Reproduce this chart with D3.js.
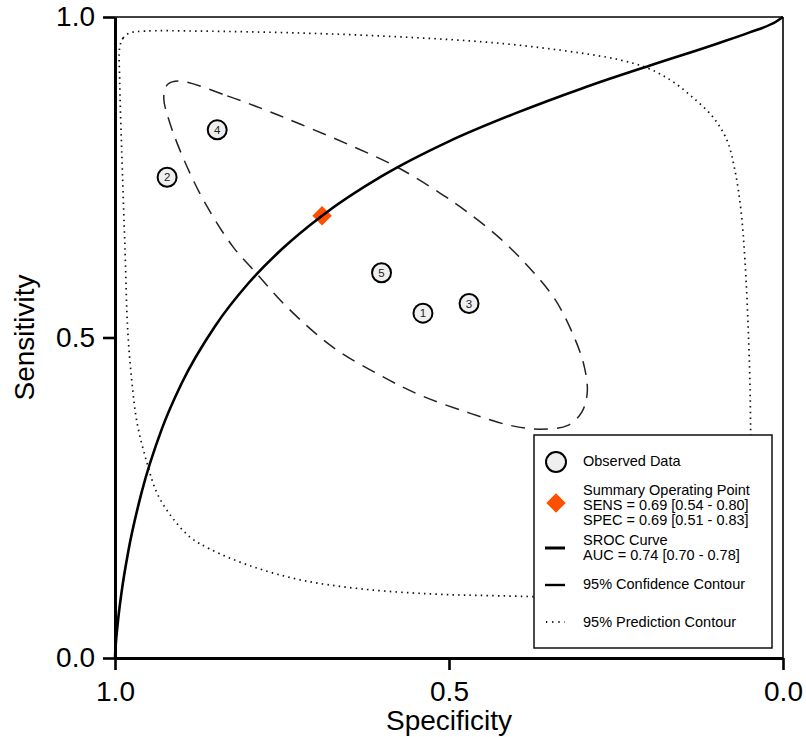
<!DOCTYPE html>
<html>
<head>
<meta charset="utf-8">
<script src="https://cdn.jsdelivr.net/npm/d3@7"></script>
<style>
  html, body { margin: 0; padding: 0; background: #fff; }
  svg { display: block; font-family: "Liberation Sans", Arial, Helvetica, sans-serif; }
</style>
</head>
<body>
<svg id="chart" width="806" height="737"></svg>
<script>
// ---- Observed studies ----
const studyIds   = [1, 2, 3, 4, 5];
const studySpec  = [0.539, 0.922, 0.470, 0.847, 0.601];
const studySens  = [0.538, 0.750, 0.553, 0.824, 0.601];

// ---- Summary operating point ----
const summarySpec = 0.69;
const summarySens = 0.69;

// ---- SROC curve (specificity, sensitivity) ----
const srocSpec = [1, 0.9999, 0.9995, 0.999, 0.998, 0.997, 0.995, 0.99, 0.98, 0.96, 0.93, 0.90, 0.85, 0.80, 0.75, 0.69, 0.60, 0.50, 0.40, 0.30, 0.20, 0.10, 0.05, 0.01, 0];
const srocSens = [0, 0.003, 0.011, 0.019, 0.032, 0.043, 0.063, 0.104, 0.167, 0.259, 0.357, 0.429, 0.518, 0.585, 0.638, 0.690, 0.752, 0.806, 0.850, 0.889, 0.924, 0.958, 0.976, 0.993, 1];

// ---- 95% confidence contour ----
const confSpec = [0.903, 0.832, 0.775, 0.723, 0.648, 0.578, 0.513, 0.473, 0.424, 0.379, 0.341, 0.314, 0.298, 0.293, 0.301, 0.322, 0.364, 0.409, 0.469, 0.543, 0.603, 0.674, 0.743, 0.789, 0.823, 0.862, 0.892, 0.918, 0.927, 0.921];
const confSens = [0.900, 0.877, 0.855, 0.833, 0.800, 0.766, 0.725, 0.696, 0.655, 0.608, 0.559, 0.504, 0.457, 0.415, 0.384, 0.363, 0.357, 0.363, 0.382, 0.410, 0.441, 0.485, 0.548, 0.601, 0.641, 0.704, 0.766, 0.835, 0.875, 0.895];

// ---- 95% prediction contour ----
const predSpec = [0.993, 0.988, 0.978, 0.955, 0.873, 0.723, 0.573, 0.424, 0.304, 0.244, 0.202, 0.169, 0.139, 0.105, 0.084, 0.072, 0.063, 0.057, 0.052, 0.049, 0.049, 0.054, 0.067, 0.094, 0.139, 0.214, 0.304, 0.424, 0.528, 0.633, 0.723, 0.798, 0.858, 0.888, 0.915, 0.937, 0.952, 0.967, 0.975, 0.981, 0.985, 0.990, 0.993];
const predSens = [0.952, 0.967, 0.975, 0.978, 0.978, 0.975, 0.969, 0.959, 0.944, 0.933, 0.920, 0.902, 0.878, 0.844, 0.808, 0.761, 0.699, 0.621, 0.512, 0.402, 0.309, 0.231, 0.172, 0.134, 0.109, 0.098, 0.095, 0.097, 0.100, 0.108, 0.122, 0.144, 0.170, 0.189, 0.220, 0.257, 0.304, 0.367, 0.434, 0.512, 0.637, 0.793, 0.902];

// ---- Axes ----
const tickValues = [0, 0.5, 1];
const tickLabels = ["0.0", "0.5", "1.0"];
const xTitle = "Specificity";
const yTitle = "Sensitivity";

// ---- Legend ----
const legendEntries = [
  { kind: "circle",  lines: ["Observed Data"] },
  { kind: "diamond", lines: ["Summary Operating Point", "SENS = 0.69 [0.54 - 0.80]", "SPEC = 0.69 [0.51 - 0.83]"] },
  { kind: "solid",   lines: ["SROC Curve", "AUC = 0.74 [0.70 - 0.78]"] },
  { kind: "dashed",  lines: ["95% Confidence Contour"] },
  { kind: "dotted",  lines: ["95% Prediction Contour"] }
];

const svg = d3.select("#chart");
const plotL = 115, plotR = 783, plotT = 17, plotB = 658;

const x = d3.scaleLinear().domain([1, 0]).range([plotL, plotR]);
const y = d3.scaleLinear().domain([0, 1]).range([plotB, plotT]);

const orange = "#ff4f00";

// frame: thin top and right edges
svg.append("line").attr("x1", plotL).attr("x2", plotR).attr("y1", plotT).attr("y2", plotT)
  .attr("stroke", "#000").attr("stroke-width", 1.6);
svg.append("line").attr("x1", plotR).attr("x2", plotR).attr("y1", plotT).attr("y2", plotB)
  .attr("stroke", "#000").attr("stroke-width", 1.6);

const fmt = d => tickLabels[tickValues.indexOf(d)];

const yAxis = svg.append("g").attr("transform", `translate(${plotL},0)`)
  .call(d3.axisLeft(y).tickValues(tickValues).tickFormat(fmt).tickSize(12).tickSizeOuter(0).tickPadding(8));
const xAxis = svg.append("g").attr("transform", `translate(0,${plotB})`)
  .call(d3.axisBottom(x).tickValues(tickValues).tickFormat(fmt).tickSize(12).tickSizeOuter(0).tickPadding(11));

[yAxis, xAxis].forEach(g => {
  g.select(".domain").attr("stroke", "#000").attr("stroke-width", 3);
  g.selectAll(".tick line").attr("stroke", "#000").attr("stroke-width", 2.6);
  g.selectAll(".tick text").attr("fill", "#000").style("font-size", "28px")
    .style("font-family", "'Liberation Sans', Arial, sans-serif");
});

svg.append("text").attr("x", (plotL + plotR) / 2).attr("y", 730)
  .attr("text-anchor", "middle").style("font-size", "28px").text(xTitle);
svg.append("text").attr("transform", `translate(34,${(plotT + plotB) / 2}) rotate(-90)`)
  .attr("text-anchor", "middle").style("font-size", "28px").text(yTitle);

// contours
const closed = d3.line().x(d => x(d[0])).y(d => y(d[1])).curve(d3.curveCatmullRomClosed.alpha(0.5));

svg.append("path").datum(d3.zip(predSpec, predSens)).attr("d", closed)
  .attr("fill", "none").attr("stroke", "#111").attr("stroke-width", 1.7)
  .attr("stroke-dasharray", "1.5 4.2");

svg.append("path").datum(d3.zip(confSpec, confSens)).attr("d", closed)
  .attr("fill", "none").attr("stroke", "#222").attr("stroke-width", 1.5)
  .attr("stroke-dasharray", "14 9");

// summary operating point
const diamond = d3.symbol().type(d3.symbolDiamond2).size(240);
svg.append("path").attr("d", diamond)
  .attr("transform", `translate(${x(summarySpec)},${y(summarySens)})`)
  .attr("fill", orange);

// SROC curve
const srocLine = d3.line().x(d => x(d[0])).y(d => y(d[1])).curve(d3.curveMonotoneX);
svg.append("path").datum(d3.zip(srocSpec, srocSens)).attr("d", srocLine)
  .attr("fill", "none").attr("stroke", "#000").attr("stroke-width", 2.6);

// observed studies
const pts = svg.append("g").selectAll("g").data(studyIds.map((id, i) => ({ id, s: studySpec[i], e: studySens[i] })))
  .join("g").attr("transform", d => `translate(${x(d.s)},${y(d.e)})`);
pts.append("circle").attr("r", 9.5).attr("fill", "#efefef").attr("stroke", "#000").attr("stroke-width", 2);
pts.append("text").attr("text-anchor", "middle").attr("dy", "0.36em")
  .style("font-size", "11.5px").attr("fill", "#222").text(d => d.id);

// legend
const lg = svg.append("g");
lg.append("rect").attr("x", 534).attr("y", 435).attr("width", 238).attr("height", 213)
  .attr("fill", "#fff").attr("stroke", "#111").attr("stroke-width", 1.5);

const firstBaselines = [466, 494.5, 545, 589, 627];
const symbolY = [462, 503, 548, 585, 622];
const lineH = 15;
legendEntries.forEach((e, i) => {
  const sx = 556, sy = symbolY[i];
  if (e.kind === "circle") {
    lg.append("circle").attr("cx", sx).attr("cy", sy).attr("r", 10)
      .attr("fill", "#efefef").attr("stroke", "#000").attr("stroke-width", 2);
  } else if (e.kind === "diamond") {
    lg.append("path").attr("d", diamond).attr("transform", `translate(${sx},${sy})`).attr("fill", orange);
  } else if (e.kind === "solid") {
    lg.append("line").attr("x1", 545).attr("x2", 565).attr("y1", sy).attr("y2", sy)
      .attr("stroke", "#000").attr("stroke-width", 3);
  } else if (e.kind === "dashed") {
    lg.append("line").attr("x1", 545).attr("x2", 565).attr("y1", sy).attr("y2", sy)
      .attr("stroke", "#000").attr("stroke-width", 2.4);
  } else {
    lg.append("line").attr("x1", 545).attr("x2", 565).attr("y1", sy).attr("y2", sy)
      .attr("stroke", "#000").attr("stroke-width", 2).attr("stroke-dasharray", "1.2 5").attr("stroke-dashoffset", -1);
  }
  const t = lg.append("text").attr("x", 583).attr("y", firstBaselines[i])
    .style("font-size", "14.5px").attr("fill", "#000");
  e.lines.forEach((ln, j) => {
    t.append("tspan").attr("x", 583).attr("y", firstBaselines[i] + j * lineH).text(ln);
  });
});
</script>
</body>
</html>
